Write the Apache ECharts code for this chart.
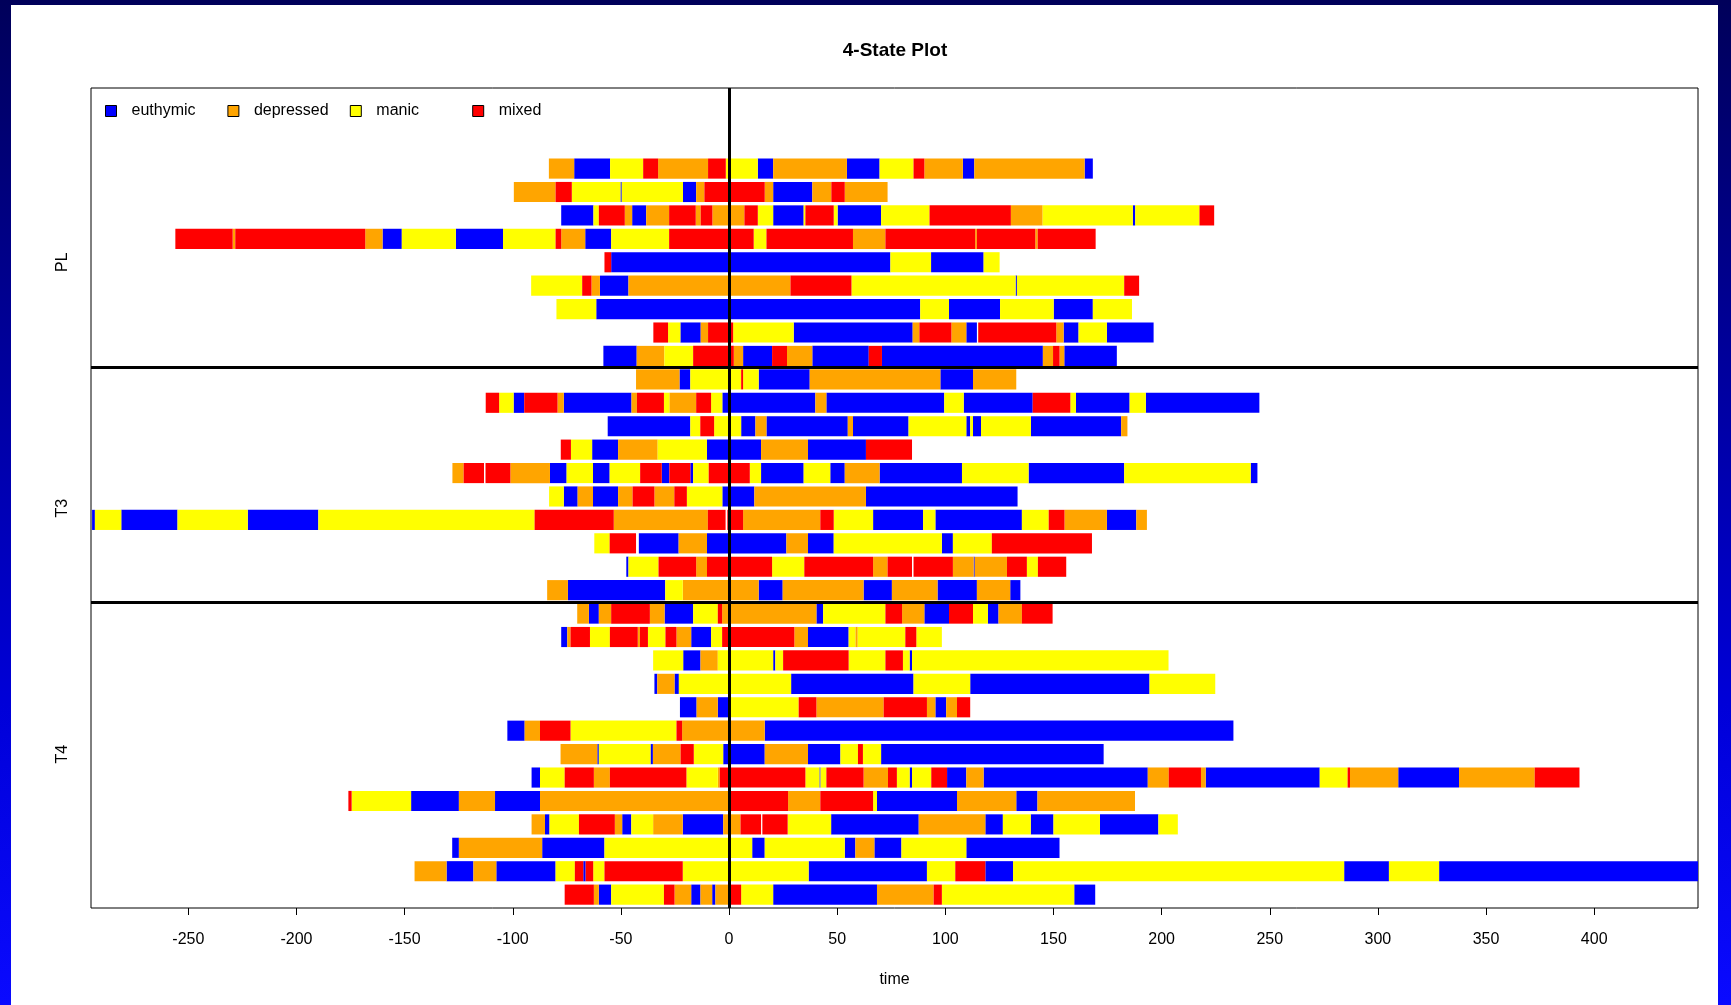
<!DOCTYPE html>
<html>
<head>
<meta charset="utf-8">
<title>4-State Plot</title>
<script src="https://cdn.jsdelivr.net/npm/echarts@6/dist/echarts.min.js"></script>
<style>
  html, body { margin: 0; padding: 0; }
  body {
    width: 1731px; height: 1005px; overflow: hidden; position: relative;
    background: linear-gradient(to bottom, #00005a 0%, #00009a 35%, #0000d8 70%, #0a0aff 100%);
  }
  #sheet { position: absolute; left: 11px; top: 5px; width: 1707px; height: 1000px; background: #ffffff; }
  #chart { position: absolute; left: 0; top: 0; width: 1731px; height: 1005px; }
</style>
</head>
<body>
<div id="sheet"></div>
<div id="chart"></div>
<script>
// Mood states, in legend order, and the one-letter codes used in the spell lists
const stateNames = ['euthymic', 'depressed', 'manic', 'mixed'];
const stateCodes = ['E', 'D', 'M', 'X'];

// Treatment groups from bottom to top, with the y position of each group label
const groupNames = ['T4', 'T3', 'PL'];
const groupLabelAt = [7, 17.5, 28];
const groupBreaks = [13.5, 23.5];

// x-axis tick values (days)
const timeTicks = [-250, -200, -150, -100, -50, 0, 50, 100, 150, 200, 250, 300, 350, 400];

// Spells per patient: [state, start day, end day]; rows listed top to bottom
const plRows = [
  [['D',-83.3,-71.6],['E',-71.6,-55],['M',-55,-39.7],['X',-39.7,-32.8],['D',-32.8,-9.7],['X',-9.7,-1.5],['M',-1.5,13.3],['E',13.3,20.4],['D',20.4,54.5],['E',54.5,69.6],['M',69.6,85.3],['X',85.3,90.3],['D',90.3,108.1],['E',108.1,113.4],['D',113.4,164.4],['E',164.4,168.2]],
  [['D',-99.5,-80.2],['X',-80.2,-72.7],['M',-72.7,-50.2],['E',-50.2,-49.6],['M',-49.6,-21.3],['E',-21.3,-15.2],['D',-15.2,-11.4],['X',-11.4,16.5],['D',16.5,20.4],['E',20.4,38.5],['D',38.5,47.3],['X',47.3,53.5],['D',53.5,73.3]],
  [['E',-77.6,-62.7],['M',-62.7,-60.2],['X',-60.2,-48.2],['D',-48.2,-44.8],['E',-44.8,-38.3],['D',-38.3,-27.7],['X',-27.7,-15.4],['D',-15.4,-13.1],['X',-13.1,-7.7],['D',-7.7,7.1],['X',7.1,13.3],['M',13.3,20.4],['E',20.4,34.5],['M',34.5,35.3],['X',35.3,48.4],['M',48.4,50.2],['E',50.2,70.3],['M',70.3,92.7],['X',92.7,130.3],['D',130.3,145],['M',145,186.7],['E',186.7,187.8],['M',187.8,217.5],['X',217.5,224.3]],
  [['X',-256,-229.5],['D',-229.5,-228.3],['X',-228.3,-168.2],['D',-168.2,-160.2],['E',-160.2,-151.3],['M',-151.3,-126.3],['E',-126.3,-104.5],['M',-104.5,-80.2],['X',-80.2,-77.6],['D',-77.6,-66.5],['E',-66.5,-54.5],['M',-54.5,-27.7],['X',-27.7,11.4],['M',11.4,17.3],['X',17.3,57.3],['D',57.3,72.3],['X',72.3,113.8],['D',113.8,114.6],['X',114.6,141.6],['D',141.6,142.7],['X',142.7,169.5]],
  [['X',-57.6,-54.5],['E',-54.5,74.6],['M',74.6,93.4],['E',93.4,117.7],['M',117.7,125.1]],
  [['M',-91.5,-67.9],['X',-67.9,-63.6],['D',-63.6,-59.7],['E',-59.7,-46.5],['D',-46.5,28.4],['X',28.4,56.6],['M',56.6,132.5],['E',132.5,133.1],['M',133.1,182.7],['X',182.7,189.6]],
  [['M',-79.8,-61.4],['E',-61.4,88.4],['M',88.4,101.7],['E',101.7,125.3],['M',125.3,150.1],['E',150.1,168.2],['M',168.2,186.3]],
  [['X',-35,-28.2],['M',-28.2,-22.5],['E',-22.5,-13.1],['D',-13.1,-9.7],['X',-9.7,1.9],['M',1.9,29.9],['E',29.9,84.9],['D',84.9,88],['X',88,102.8],['D',102.8,109.7],['E',109.7,114.6],['X',115.2,151.3],['D',151.3,154.7],['E',154.7,161.6],['M',161.6,174.7],['E',174.7,196.3]],
  [['E',-58.1,-42.7],['D',-42.7,-29.9],['M',-29.9,-16.6],['X',-16.6,2.2],['D',2.2,6.5],['E',6.5,19.9],['X',19.9,26.8],['D',26.8,38.5],['E',38.5,64.6],['X',64.6,70.7],['E',70.7,145.1],['D',145.1,149.8],['X',149.8,152.8],['D',152.8,155],['E',155,179.3]]
];

const t3Rows = [
  [['D',-43,-22.9],['E',-22.9,-17.9],['M',-17.9,5.6],['X',5.6,6.5],['M',6.5,13.7],['E',13.7,37.3],['D',37.3,97.7],['E',97.7,112.8],['D',112.8,132.8]],
  [['X',-112.5,-106.3],['M',-106.3,-99.6],['E',-99.6,-94.7],['X',-94.7,-79.3],['D',-79.3,-76.4],['E',-76.4,-45.1],['D',-45.1,-42.6],['X',-42.6,-30.1],['M',-30.1,-27.6],['D',-27.6,-15.2],['X',-15.2,-8.3],['M',-8.3,-3.1],['E',-3.1,39.9],['D',39.9,45],['E',45,99.5],['M',99.5,108.5],['E',108.5,140.4],['X',140.4,157.8],['M',157.8,160.4],['E',160.4,185.2],['M',185.2,192.7],['E',192.7,245.2]],
  [['E',-56.1,-17.9],['M',-17.9,-13.3],['X',-13.3,-6.9],['M',-6.9,5.6],['E',5.6,12.2],['D',12.2,17.3],['E',17.3,54.9],['D',54.9,57.3],['E',57.3,83],['M',83,109.7],['E',109.7,111.5],['M',111.5,112.8],['E',112.8,116.5],['M',116.5,139.6],['E',139.6,181.3],['D',181.3,184.2]],
  [['X',-77.8,-73.1],['M',-73.1,-63.3],['E',-63.3,-51.3],['D',-51.3,-33],['M',-33,-10.2],['E',-10.2,14.8],['D',14.8,36.5],['E',36.5,63.3],['X',63.3,84.6]],
  [['D',-127.9,-122.7],['X',-122.7,-113.3],['X',-112.6,-101.1],['D',-101.1,-82.8],['E',-82.8,-75.1],['M',-75.1,-62.9],['E',-62.9,-55.2],['M',-55.2,-41.1],['X',-41.1,-31.1],['E',-31.1,-27.6],['X',-27.6,-17.9],['E',-17.9,-16.6],['M',-16.6,-9.4],['X',-9.4,9.6],['M',9.6,14.8],['E',14.8,34.5],['M',34.5,46.8],['E',46.8,53.5],['D',53.5,69.6],['E',69.6,107.7],['M',107.7,138.5],['E',138.5,182.7],['M',182.7,241.2],['E',241.2,244.3]],
  [['M',-83.2,-76.4],['E',-76.4,-70],['D',-70,-62.9],['E',-62.9,-51.3],['D',-51.3,-44.6],['X',-44.6,-34.5],['D',-34.5,-25.3],['X',-25.3,-19.5],['M',-19.5,-3.1],['E',-3.1,11.7],['D',11.7,63.3],['E',63.3,133.4]],
  [['E',-294.5,-293.2],['M',-293.2,-281],['E',-281,-255],['M',-255,-222.5],['E',-222.5,-189.9],['M',-189.9,-89.9],['X',-89.9,-53.3],['D',-53.3,-9.8],['X',-9.8,-1.6],['X',-0.8,6.5],['D',6.5,42.2],['X',42.2,48.4],['M',48.4,66.6],['E',66.6,89.7],['M',89.7,95.4],['E',95.4,135.4],['M',135.4,147.8],['X',147.8,155.1],['D',155.1,174.7],['E',174.7,188.3],['D',188.3,193.2]],
  [['M',-62.3,-55.2],['X',-55.2,-43],['E',-41.7,-23.3],['D',-23.3,-10.2],['E',-10.2,26.5],['D',26.5,36.5],['E',36.5,48.4],['M',48.4,98.4],['E',98.4,103.5],['M',103.5,121.5],['X',121.5,167.8]],
  [['E',-47.5,-46.5],['M',-46.5,-32.6],['X',-32.6,-15.2],['D',-15.2,-10.2],['X',-10.2,19.9],['M',19.9,34.8],['X',34.8,66.6],['D',66.6,73.3],['X',73.3,84.6],['X',85.3,103.5],['D',103.5,113.1],['E',113.1,113.6],['D',113.6,128.5],['X',128.5,137.7],['M',137.7,142.8],['X',142.8,155.9]],
  [['D',-84.1,-74.5],['E',-74.5,-29.5],['M',-29.5,-21.4],['D',-21.4,13.7],['E',13.7,24.8],['D',24.8,62.2],['E',62.2,75.3],['D',75.3,96.4],['E',96.4,114.6],['D',114.6,130],['E',130,134.7]]
];

const t4Rows = [
  [['D',-70.2,-64.8],['E',-64.8,-60.2],['D',-60.2,-54.5],['X',-54.5,-36.6],['D',-36.6,-29.8],['E',-29.8,-16.6],['M',-16.6,-5.2],['X',-5.2,-3.2],['D',-3.2,40.4],['E',40.4,43.5],['M',43.5,72.3],['X',72.3,80],['D',80,90.3],['E',90.3,101.7],['X',101.7,112.8],['M',112.8,119.7],['E',119.7,124.6],['D',124.6,135.4],['X',135.4,149.6]],
  [['E',-77.6,-74.8],['D',-74.8,-73.3],['X',-73.3,-64.3],['M',-64.3,-55.1],['X',-55.1,-42.2],['D',-42.2,-41.2],['X',-41.2,-37.5],['M',-37.5,-29.4],['X',-29.4,-24.3],['D',-24.3,-17.5],['E',-17.5,-8.3],['M',-8.3,-3.2],['X',-3.2,30.2],['D',30.2,36.5],['E',36.5,55.3],['M',55.3,58.4],['D',58.4,59.5],['M',59.5,81.5],['X',81.5,86.6],['M',86.6,98.4]],
  [['M',-35.1,-21.2],['E',-21.2,-13.2],['D',-13.2,-5.2],['M',-5.2,20.4],['E',20.4,21.4],['M',21.4,25],['X',25,55.3],['M',55.3,72.3],['X',72.3,80.4],['M',80.4,83.5],['E',83.5,84.6],['M',84.6,203.2]],
  [['E',-34.5,-33.2],['D',-33.2,-25.2],['E',-25.2,-23.2],['M',-23.2,28.7],['E',28.7,85.3],['M',85.3,111.5],['E',111.5,194.4],['M',194.4,224.8]],
  [['E',-22.7,-15],['D',-15,-5.2],['E',-5.2,0.4],['M',0.4,32.2],['X',32.2,40.4],['D',40.4,71.5],['X',71.5,91.5],['D',91.5,95.4],['E',95.4,100.4],['D',100.4,105.4],['X',105.4,111.5]],
  [['E',-102.5,-94.5],['D',-94.5,-87.4],['X',-87.4,-73.3],['M',-73.3,-24.3],['X',-24.3,-21.7],['D',-21.7,16.5],['E',16.5,233.2]],
  [['D',-77.9,-60.9],['E',-60.9,-60.2],['M',-60.2,-36.3],['E',-36.3,-35.2],['D',-35.2,-22.4],['X',-22.4,-16.3],['M',-16.3,-2.7],['E',-2.7,16.5],['D',16.5,36.5],['E',36.5,51.5],['M',51.5,59.6],['X',59.6,61.9],['M',61.9,70.3],['E',70.3,173.2]],
  [['E',-91.3,-87.4],['M',-87.4,-76],['X',-76,-62.5],['D',-62.5,-55.1],['X',-55.1,-19.7],['M',-19.7,-5.2],['D',-5.2,-4.3],['X',-4.3,35.3],['M',35.3,41.8],['E',41.8,42.3],['M',42.3,45],['X',45,62.2],['D',62.2,73.5],['X',73.5,77.6],['M',77.6,83.5],['E',83.5,84.6],['M',84.6,93.5],['X',93.5,100.8],['E',100.8,109.7],['D',109.7,117.7],['E',117.7,193.6],['D',193.6,203.3],['X',203.3,218.2],['D',218.2,220.4],['E',220.4,273.1],['M',273.1,286],['X',286,287.1],['D',287.1,309.4],['E',309.4,337.5],['D',337.5,372.5],['X',372.5,393.2]],
  [['X',-176,-174.5],['M',-174.5,-147],['E',-147,-124.9],['D',-124.9,-108.2],['E',-108.2,-87.4],['D',-87.4,0],['X',0,27.3],['D',27.3,42.2],['X',42.2,66.6],['M',66.6,68.4],['E',68.4,105.4],['D',105.4,132.8],['E',132.8,142.6],['D',142.6,187.7]],
  [['D',-91.3,-85.1],['E',-85.1,-83],['M',-83,-69.4],['X',-69.4,-52.8],['D',-52.8,-49.4],['E',-49.4,-45.2],['M',-45.2,-35.1],['D',-35.1,-21.4],['E',-21.4,-2.7],['D',-2.7,5.3],['X',5.3,14.8],['X',15.4,27.1],['M',27.1,47.2],['E',47.2,87.7],['D',87.7,118.5],['E',118.5,126.6],['M',126.6,139.5],['E',139.5,150],['M',150,171.5],['E',171.5,198.5],['M',198.5,207.5]],
  [['E',-128,-124.9],['D',-124.9,-86.4],['E',-86.4,-57.6],['M',-57.6,10.7],['E',10.7,16.5],['M',16.5,53.5],['E',53.5,58.4],['D',58.4,67.2],['E',67.2,79.7],['M',79.7,109.7],['E',109.7,152.8]],
  [['D',-145.4,-130.6],['E',-130.6,-118.2],['D',-118.2,-107.6],['E',-107.6,-80.2],['M',-80.2,-71.3],['X',-71.3,-67.4],['E',-67.4,-66.3],['X',-66.3,-62.8],['M',-62.8,-57.6],['X',-57.6,-21.4],['M',-21.4,36.8],['E',36.8,91.5],['M',91.5,104.6],['X',104.6,118.5],['E',118.5,131.3],['M',131.3,284.4],['E',284.4,305.1],['M',305.1,328.3],['E',328.3,455]],
  [['X',-76,-62.5],['D',-62.5,-60.2],['E',-60.2,-54.5],['M',-54.5,-30.1],['X',-30.1,-25.2],['D',-25.2,-17.5],['E',-17.5,-13.2],['D',-13.2,-7.8],['E',-7.8,-6.3],['D',-6.3,0.7],['X',0.7,5.6],['M',5.6,20.4],['E',20.4,68.4],['D',68.4,94.6],['X',94.6,98.4],['M',98.4,159.6],['E',159.6,169.3]]
];

// ---- styling ----
const stateColors = ['#0000ff', '#ffa500', '#ffff00', '#ff0000'];
const FONT = '"Liberation Sans", Arial, sans-serif';
const BAR_FRACTION = 0.86;

// Stack the groups bottom-up: T4 occupies rows 1..13, T3 14..23, PL 24..32
const bottomUp = [].concat(t4Rows.slice().reverse(), t3Rows.slice().reverse(), plRows.slice().reverse());
const spellsByState = stateCodes.map(() => []);
bottomUp.forEach((row, i) => {
  row.forEach(([code, start, end]) => {
    spellsByState[stateCodes.indexOf(code)].push([start, end, i + 1]);
  });
});

function renderSpell(params, api) {
  const y = api.value(2);
  const p0 = api.coord([api.value(0), y]);
  const p1 = api.coord([api.value(1), y]);
  const h = api.size([0, 1])[1] * BAR_FRACTION;
  const cs = params.coordSys;
  const shape = echarts.graphic.clipRectByRect(
    { x: p0[0], y: p0[1] - h / 2, width: p1[0] - p0[0], height: h },
    { x: cs.x, y: cs.y, width: cs.width, height: cs.height }
  );
  return shape && { type: 'rect', shape: shape, style: api.style({ stroke: null, lineWidth: 0 }) };
}

const chart = echarts.init(document.getElementById('chart'), null, { renderer: 'canvas' });

const series = stateNames.map((name, k) => ({
  name: name,
  type: 'custom',
  renderItem: renderSpell,
  encode: { x: [0, 1], y: 2 },
  itemStyle: { color: stateColors[k] },
  data: spellsByState[k],
  silent: true,
  z: 2
}));

// Reference lines: day 0 and the boundaries between the groups
series.push({
  name: 'dividers',
  type: 'line',
  data: [],
  silent: true,
  z: 5,
  markLine: {
    silent: true,
    symbol: ['none', 'none'],
    animation: false,
    label: { show: false },
    lineStyle: { color: '#000', width: 3, type: 'solid' },
    data: [{ xAxis: 0 }].concat(groupBreaks.map(v => ({ yAxis: v })))
  }
});

const legendStep = 122.4;
const legends = stateNames.map((name, k) => ({
  data: [name],
  left: 105 + k * legendStep,
  top: 103,
  padding: 0,
  icon: 'rect',
  itemWidth: 11,
  itemHeight: 11,
  selectedMode: false,
  itemStyle: { borderColor: '#000', borderWidth: 1 },
  textStyle: { color: '#000', fontSize: 16, fontFamily: FONT, padding: [0, 0, 0, 10] }
}));

chart.setOption({
  animation: false,
  backgroundColor: 'transparent',
  title: {
    text: '4-State Plot',
    left: 890,
    textAlign: 'center',
    top: 36,
    textStyle: { color: '#000', fontSize: 19, fontWeight: 'bold', fontFamily: FONT }
  },
  legend: legends,
  grid: {
    left: 91, right: 33, top: 88, bottom: 97,
    show: true, borderColor: '#000', borderWidth: 1, backgroundColor: 'transparent'
  },
  xAxis: {
    type: 'value',
    min: -295,
    max: 448,
    name: 'time',
    nameLocation: 'middle',
    nameGap: 64,
    nameTextStyle: { color: '#000', fontSize: 16, fontFamily: FONT },
    axisLine: { show: false },
    splitLine: { show: false },
    axisTick: { show: true, length: 7, lineStyle: { color: '#000', width: 1 }, customValues: timeTicks },
    axisLabel: { color: '#000', fontSize: 16, fontFamily: FONT, margin: 24, customValues: timeTicks }
  },
  yAxis: {
    type: 'value',
    min: 0.43,
    max: 35.44,
    axisLine: { show: false },
    axisTick: { show: false },
    splitLine: { show: false },
    axisLabel: {
      rotate: 90,
      margin: 20,
      color: '#000',
      fontSize: 16,
      fontFamily: FONT,
      customValues: groupLabelAt,
      formatter: v => groupNames[groupLabelAt.indexOf(v)] || ''
    }
  },
  series: series
});
</script>
</body>
</html>
